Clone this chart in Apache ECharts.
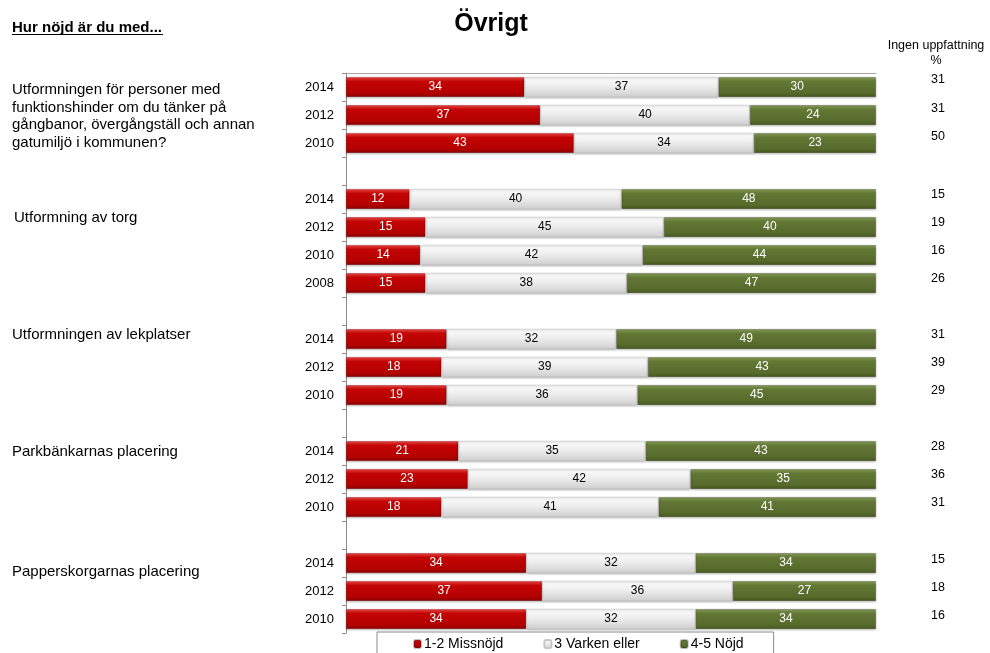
<!DOCTYPE html>
<html>
<head>
<meta charset="utf-8">
<script src="https://cdn.jsdelivr.net/npm/echarts@6/dist/echarts.min.js"></script>
<style>
  html, body { margin: 0; padding: 0; background: #fff; }
  #chart { width: 990px; height: 653px; }
</style>
</head>
<body>
<div id="chart"></div>
<script>
// rows top to bottom, null = empty spacer row between questions
var years    = ['2014', '2012', '2010', '', '2014', '2012', '2010', '2008', '', '2014', '2012', '2010', '', '2014', '2012', '2010', '', '2014', '2012', '2010'];
var missnojd = [34, 37, 43, null, 12, 15, 14, 15, null, 19, 18, 19, null, 21, 23, 18, null, 34, 37, 34];
var varken   = [37, 40, 34, null, 40, 45, 42, 38, null, 32, 39, 36, null, 35, 42, 41, null, 32, 36, 32];
var nojd     = [30, 24, 23, null, 48, 40, 44, 47, null, 49, 43, 45, null, 43, 35, 41, null, 34, 27, 34];
var ingen    = [31, 31, 50, null, 15, 19, 16, 26, null, 31, 39, 29, null, 28, 36, 31, null, 15, 18, 16];

var questions = [
    'Utformningen för personer med\nfunktionshinder om du tänker på\ngångbanor, övergångställ och annan\ngatumiljö i kommunen?',
    'Utformning av torg',
    'Utformningen av lekplatser',
    'Parkbänkarnas placering',
    'Papperskorgarnas placering'
];
var seriesNames = ['1-2 Missnöjd', '3 Varken eller', '4-5 Nöjd'];

var FONT = '"Liberation Sans", Arial, sans-serif';

// each row is scaled to 100 so the bars fill the width, labels keep the raw numbers
function share(arr, i) {
    if (arr[i] == null) return null;
    var sum = missnojd[i] + varken[i] + nojd[i];
    return arr[i] / sum * 100;
}
function rowData(arr) {
    return arr.map(function (v, i) {
        return { value: share(arr, i), raw: v };
    });
}
var catKeys = years.map(function (y, i) { return i + '|' + y; });

function grad(stops) {
    return {
        type: 'linear', x: 0, y: 0, x2: 0, y2: 1,
        colorStops: stops.map(function (s) { return { offset: s[0], color: s[1] }; })
    };
}
var fills = [
    grad([[0, '#ea4a4a'], [0.22, '#c40404'], [0.8, '#b30000'], [1, '#8c0000']]),
    grad([[0, '#fdfdfd'], [0.45, '#eeeeee'], [1, '#cfcfcf']]),
    grad([[0, '#889c5e'], [0.22, '#627834'], [0.8, '#566b2b'], [1, '#43561f']])
];
var labelColors = ['#fff', '#000', '#fff'];

var chart = echarts.init(document.getElementById('chart'));

var series = [missnojd, varken, nojd].map(function (arr, k) {
    return {
        name: seriesNames[k],
        type: 'bar',
        stack: 'all',
        barWidth: 20,
        data: rowData(arr),
        itemStyle: {
            color: fills[k],
            borderColor: k === 1 ? '#c8c8c8' : 'rgba(0,0,0,0.25)',
            borderWidth: 0.6,
            shadowColor: 'rgba(0,0,0,0.25)',
            shadowBlur: 2,
            shadowOffsetY: 1
        },
        label: {
            show: true,
            position: 'inside',
            color: labelColors[k],
            fontFamily: FONT,
            fontSize: 12,
            formatter: function (p) { return p.data.raw; }
        },
        emphasis: { disabled: true }
    };
});

chart.setOption({
    animation: false,
    textStyle: { fontFamily: FONT },
    title: {
        text: 'Övrigt',
        left: 486,
        textAlign: 'center',
        top: 7,
        textStyle: { fontSize: 25, fontWeight: 'bold', color: '#000', fontFamily: FONT }
    },
    legend: {
        data: seriesNames,
        left: 377,
        top: 632,
        padding: [5, 30, 6, 36],
        itemWidth: 7,
        itemHeight: 8,
        itemGap: 40,
        borderColor: '#8c8c8c',
        borderWidth: 1,
        textStyle: { fontSize: 14, color: '#000', fontFamily: FONT, padding: [0, 0, 0, -2] }
    },
    grid: { left: 346, right: 114, top: 73, height: 560 },
    xAxis: {
        type: 'value',
        position: 'top',
        min: 0,
        max: 100,
        axisLine: { show: true, lineStyle: { color: '#a6a6a6' } },
        axisTick: { show: false },
        axisLabel: { show: false },
        splitLine: { show: false }
    },
    yAxis: {
        type: 'category',
        inverse: true,
        data: catKeys,
        axisLine: { show: true, lineStyle: { color: '#8c8c8c' } },
        axisTick: { show: true, length: 4, lineStyle: { color: '#8c8c8c' } },
        axisLabel: {
            margin: 12,
            fontSize: 13,
            color: '#000',
            fontFamily: FONT,
            formatter: function (v) { return v.split('|')[1]; }
        }
    },
    series: series
});

// left-hand question texts, the "Ingen uppfattning" column and the heading
var questionX = [12, 14, 12, 12, 12];
var questionY = [81, 209, 326, 443, 563];
var noteShift = [-7, -6, -6, 0, -4, -4, -4, -4, 0, -4, -4, -4, 0, -4, -4, -4, 0, -3, -3, -3];
var graphic = [
    {
        type: 'text', left: 12, top: 20,
        style: { text: 'Hur nöjd är du med...', font: 'bold 15px ' + FONT, fill: '#000' }
    },
    {
        type: 'line', shape: { x1: 12, y1: 34.5, x2: 163, y2: 34.5 },
        style: { stroke: '#000', lineWidth: 1.2 }
    },
    {
        type: 'text', x: 936, y: 38,
        style: { text: 'Ingen uppfattning\n%', font: '12.5px ' + FONT, fill: '#000', align: 'center', lineHeight: 15 }
    }
];
questions.forEach(function (q, i) {
    graphic.push({
        type: 'text', x: questionX[i], y: questionY[i],
        style: { text: q, font: '15px ' + FONT, fill: '#000', lineHeight: 17.7 }
    });
});
ingen.forEach(function (v, i) {
    if (v == null) return;
    var y = chart.convertToPixel({ yAxisIndex: 0 }, i) + noteShift[i];
    graphic.push({
        type: 'text', x: 938, y: y,
        style: { text: String(v), font: '12.5px ' + FONT, fill: '#000', align: 'center', verticalAlign: 'middle' }
    });
});
chart.setOption({ graphic: graphic });
</script>
</body>
</html>
